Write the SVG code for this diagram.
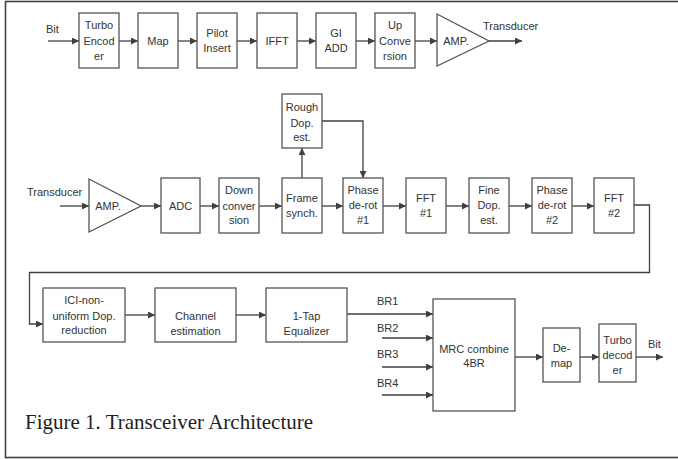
<svg xmlns="http://www.w3.org/2000/svg" width="678" height="459" viewBox="0 0 678 459">
<defs>
<marker id="ah" viewBox="0 0 10 10" refX="10" refY="5" markerWidth="8" markerHeight="7" markerUnits="userSpaceOnUse" orient="auto">
<path d="M0,0 L10,5 L0,10 z" fill="#404040"/>
</marker>
<style>
.b{fill:#fff;stroke:#555;stroke-width:1.3}
.t{font-family:"Liberation Sans",Arial,sans-serif;font-size:11px;fill:#333;text-anchor:middle}
.l{font-family:"Liberation Sans",Arial,sans-serif;font-size:11px;fill:#333}
.c{fill:none;stroke:#404040;stroke-width:1.3}
.a{marker-end:url(#ah)}
</style>
</defs>
<rect x="5.5" y="1.5" width="690" height="456" fill="#fff" stroke="#404040" stroke-width="1.6"/>

<g id="connectors">
<path class="c a" d="M48,41 H79"/>
<path class="c a" d="M119,41 H138"/>
<path class="c a" d="M178,41 H197"/>
<path class="c a" d="M237,41 H257"/>
<path class="c a" d="M297,41 H316"/>
<path class="c a" d="M356,41 H375"/>
<path class="c a" d="M415,41 H437"/>
<path class="c a" d="M489,41 H522"/>

<path class="c a" d="M60,206 H89"/>
<path class="c a" d="M141,206 H161"/>
<path class="c a" d="M200,206 H219"/>
<path class="c a" d="M259,206 H282"/>
<path class="c a" d="M322,206 H343"/>
<path class="c a" d="M302,178 V148"/>
<path class="c a" d="M322,121 H363 V178"/>
<path class="c a" d="M383,206 H406"/>
<path class="c a" d="M446,206 H469"/>
<path class="c a" d="M509,206 H532"/>
<path class="c a" d="M572,206 H594"/>
<path class="c a" d="M634,205 H649.5 V272.5 H29.5 V324 H43"/>

<path class="c a" d="M125,315 H155"/>
<path class="c a" d="M236,315 H266"/>
<path class="c a" d="M347,314 H433"/>
<path class="c a" d="M382,338 H433"/>
<path class="c a" d="M382,367 H433"/>
<path class="c a" d="M382,395 H433"/>
<path class="c a" d="M515,357 H543"/>
<path class="c a" d="M580,357 H599"/>
<path class="c a" d="M636,357 H663"/>
</g>

<g id="tx-bit"><text class="l" x="46" y="33">Bit</text></g>
<g id="turbo-encoder"><rect class="b" x="79" y="13" width="40" height="55"/>
<text class="t" x="99" y="29">Turbo</text><text class="t" x="99" y="45">Encod</text><text class="t" x="99" y="60">er</text></g>
<g id="map"><rect class="b" x="138" y="13" width="40" height="55"/><text class="t" x="158" y="45">Map</text></g>
<g id="pilot-insert"><rect class="b" x="197" y="13" width="40" height="55"/>
<text class="t" x="217" y="37">Pilot</text><text class="t" x="217" y="52">Insert</text></g>
<g id="ifft"><rect class="b" x="257" y="13" width="40" height="55"/><text class="t" x="277" y="45">IFFT</text></g>
<g id="gi-add"><rect class="b" x="316" y="13" width="40" height="55"/>
<text class="t" x="336" y="37">GI</text><text class="t" x="336" y="52">ADD</text></g>
<g id="up-conversion"><rect class="b" x="375" y="13" width="40" height="55"/>
<text class="t" x="395" y="29">Up</text><text class="t" x="395" y="45">Conve</text><text class="t" x="395" y="60">rsion</text></g>
<g id="tx-amp"><path class="b" d="M437,14 L489,41 L437,66 z"/><text class="t" x="456" y="45">AMP.</text></g>
<g id="tx-transducer"><text class="l" x="483" y="30">Transducer</text></g>

<g id="rx-transducer"><text class="l" x="27" y="196">Transducer</text></g>
<g id="rx-amp"><path class="b" d="M89,179 L141,206 L89,232 z"/><text class="t" x="108" y="210">AMP.</text></g>
<g id="adc"><rect class="b" x="161" y="178" width="39" height="55"/><text class="t" x="180.5" y="210">ADC</text></g>
<g id="down-conversion"><rect class="b" x="219" y="178" width="40" height="55"/>
<text class="t" x="239" y="194">Down</text><text class="t" x="239" y="210">conver</text><text class="t" x="239" y="224">sion</text></g>
<g id="frame-synch"><rect class="b" x="282" y="178" width="40" height="55"/>
<text class="t" x="302" y="202">Frame</text><text class="t" x="302" y="217">synch.</text></g>
<g id="rough-dop"><rect class="b" x="282" y="94" width="40" height="54"/>
<text class="t" x="302" y="111">Rough</text><text class="t" x="302" y="127">Dop.</text><text class="t" x="302" y="141">est.</text></g>
<g id="phase-derot-1"><rect class="b" x="343" y="178" width="40" height="55"/>
<text class="t" x="363" y="194">Phase</text><text class="t" x="363" y="209">de-rot</text><text class="t" x="363" y="224">#1</text></g>
<g id="fft-1"><rect class="b" x="406" y="178" width="40" height="55"/>
<text class="t" x="426" y="202">FFT</text><text class="t" x="426" y="217">#1</text></g>
<g id="fine-dop"><rect class="b" x="469" y="178" width="40" height="55"/>
<text class="t" x="489" y="194">Fine</text><text class="t" x="489" y="209">Dop.</text><text class="t" x="489" y="224">est.</text></g>
<g id="phase-derot-2"><rect class="b" x="532" y="178" width="40" height="55"/>
<text class="t" x="552" y="194">Phase</text><text class="t" x="552" y="209">de-rot</text><text class="t" x="552" y="224">#2</text></g>
<g id="fft-2"><rect class="b" x="594" y="178" width="40" height="55"/>
<text class="t" x="614" y="202">FFT</text><text class="t" x="614" y="217">#2</text></g>

<g id="ici-reduction"><rect class="b" x="43" y="288" width="82" height="54"/>
<text class="t" x="84" y="304">ICI-non-</text><text class="t" x="84" y="320">uniform Dop.</text><text class="t" x="84" y="334">reduction</text></g>
<g id="channel-estimation"><rect class="b" x="155" y="288" width="81" height="54"/>
<text class="t" x="195.5" y="320">Channel</text><text class="t" x="195.5" y="335">estimation</text></g>
<g id="equalizer"><rect class="b" x="266" y="288" width="81" height="54"/>
<text class="t" x="306.5" y="320">1-Tap</text><text class="t" x="306.5" y="335">Equalizer</text></g>
<g id="br-labels">
<text class="l" x="377" y="305">BR1</text>
<text class="l" x="377" y="332">BR2</text>
<text class="l" x="377" y="358">BR3</text>
<text class="l" x="377" y="387">BR4</text>
</g>
<g id="mrc"><rect class="b" x="433" y="299" width="82" height="112"/>
<text class="t" x="474" y="353">MRC combine</text><text class="t" x="474" y="367">4BR</text></g>
<g id="demap"><rect class="b" x="543" y="328" width="37" height="54"/>
<text class="t" x="561.5" y="352">De-</text><text class="t" x="561.5" y="367">map</text></g>
<g id="turbo-decoder"><rect class="b" x="599" y="324" width="37" height="58"/>
<text class="t" x="617.5" y="344">Turbo</text><text class="t" x="617.5" y="359">decod</text><text class="t" x="617.5" y="374">er</text></g>
<g id="rx-bit"><text class="l" x="648" y="348">Bit</text></g>

<text x="25" y="429" font-family="'Liberation Serif','Times New Roman',serif" font-size="21" fill="#222">Figure 1. Transceiver Architecture</text>
</svg>
